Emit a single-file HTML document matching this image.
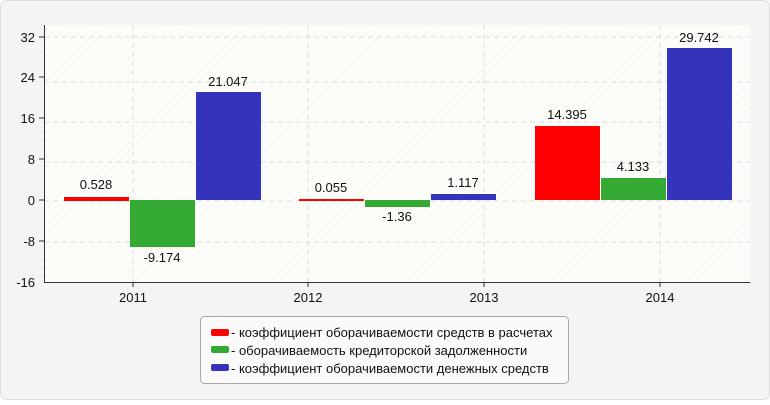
<!DOCTYPE html><html><head><meta charset="utf-8"><style>
body{margin:0;background:#fff;}
svg text{font-family:"Liberation Sans",sans-serif;font-size:13px;fill:#111}
</style></head><body>
<svg width="770" height="400" xmlns="http://www.w3.org/2000/svg">
<defs><pattern id="h" width="6" height="6" patternUnits="userSpaceOnUse" patternTransform="rotate(-45)"><rect width="6" height="6" fill="#fdfdf9"/><line x1="0" y1="0" x2="6" y2="0" stroke="#eeeeee" stroke-width="1"/></pattern></defs>
<rect x="0.5" y="0.5" width="769" height="399" rx="6" fill="#f4f4f4" stroke="#ddd"/>
<rect x="44" y="25" width="706" height="257" fill="url(#h)"/>
<g stroke="#ddd" stroke-dasharray="5,4">
<line x1="44" x2="750" y1="37" y2="37"/><line x1="44" x2="750" y1="82" y2="82"/><line x1="44" x2="750" y1="122" y2="122"/><line x1="44" x2="750" y1="162" y2="162"/><line x1="44" x2="750" y1="201" y2="201"/><line x1="44" x2="750" y1="242" y2="242"/>
<line x1="133" x2="133" y1="25" y2="282"/><line x1="308" x2="308" y1="25" y2="282"/><line x1="484" x2="484" y1="25" y2="282"/><line x1="660" x2="660" y1="25" y2="282"/>
</g>
<g>
<rect x="64" y="197" width="65" height="4" fill="#ff0000"/>
<rect x="130" y="200" width="65" height="47" fill="#33aa33"/>
<rect x="196" y="92" width="65" height="108" fill="#3333bb"/>
<rect x="299" y="199" width="65" height="2" fill="#ff0000"/>
<rect x="365" y="200" width="65" height="7" fill="#33aa33"/>
<rect x="431" y="194" width="65" height="6" fill="#3333bb"/>
<rect x="535" y="126" width="65" height="74" fill="#ff0000"/>
<rect x="601" y="178" width="65" height="22" fill="#33aa33"/>
<rect x="667" y="48" width="65" height="152" fill="#3333bb"/>
</g>
<g text-anchor="middle">
<text x="96" y="189">0.528</text><text x="162" y="262">-9.174</text><text x="228" y="86">21.047</text>
<text x="331" y="192">0.055</text><text x="397" y="221">-1.36</text><text x="463" y="187">1.117</text>
<text x="567" y="119">14.395</text><text x="633" y="171">4.133</text><text x="699" y="42">29.742</text>
<text x="133" y="302">2011</text><text x="308" y="302">2012</text><text x="484" y="302">2013</text><text x="660" y="302">2014</text>
</g>
<g stroke="#333"><line x1="44.5" y1="25" x2="44.5" y2="282"/><line x1="44" y1="282.5" x2="750" y2="282.5"/>
<line x1="39" x2="44" y1="37" y2="37"/><line x1="39" x2="44" y1="77" y2="77"/><line x1="39" x2="44" y1="118" y2="118"/><line x1="39" x2="44" y1="159" y2="159"/><line x1="39" x2="44" y1="200" y2="200"/><line x1="39" x2="44" y1="241" y2="241"/>
<line x1="133" x2="133" y1="282" y2="287"/><line x1="308" x2="308" y1="282" y2="287"/><line x1="484" x2="484" y1="282" y2="287"/><line x1="660" x2="660" y1="282" y2="287"/></g>
<g text-anchor="end"><text x="35" y="42">32</text><text x="35" y="82">24</text><text x="35" y="123">16</text><text x="35" y="164">8</text><text x="35" y="205">0</text><text x="35" y="246">-8</text><text x="35" y="287">-16</text></g>
<rect x="200.5" y="316.5" width="368" height="67" rx="4" fill="#fafafa" stroke="#aaa"/>
<rect x="211" y="329" width="18" height="7" rx="2" fill="#ff0000"/>
<rect x="211" y="346" width="18" height="7" rx="2" fill="#33aa33"/>
<rect x="211" y="364" width="18" height="7" rx="2" fill="#3333bb"/>
<text x="231" y="337" fill="#333">- коэффициент оборачиваемости средств в расчетах</text>
<text x="231" y="355" fill="#333">- оборачиваемость кредиторской задолженности</text>
<text x="231" y="373" fill="#333">- коэффициент оборачиваемости денежных средств</text>
</svg></body></html>
